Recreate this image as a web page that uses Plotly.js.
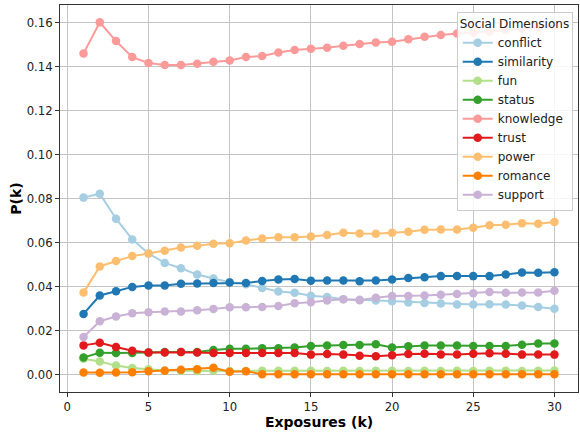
<!DOCTYPE html>
<html>
<head>
<meta charset="utf-8">
<script src="https://cdn.plot.ly/plotly-3.0.1.min.js"></script>
<style>
html,body{margin:0;padding:0;background:#fff;}
#chart{width:580px;height:434px;}
</style>
</head>
<body>
<div id="chart"></div>
<script>
const exposures = [1,2,3,4,5,6,7,8,9,10,11,12,13,14,15,16,17,18,19,20,21,22,23,24,25,26,27,28,29,30];

const seriesNames = ["conflict","similarity","fun","status","knowledge","trust","power","romance","support"];
const seriesColors = ["#a6cee3","#1f78b4","#b2df8a","#33a02c","#fb9a99","#e31a1c","#fdbf6f","#ff7f00","#cab2d6"];

const conflict = [0.0804,0.0822,0.0708,0.0614,0.0550,0.0507,0.0483,0.0454,0.0436,0.0419,0.0410,0.0393,0.0377,0.0371,0.0358,0.0352,0.0342,0.0339,0.0336,0.0333,0.0327,0.0325,0.0322,0.0318,0.0318,0.0319,0.0318,0.0313,0.0307,0.0299];
const similarity = [0.0275,0.0359,0.0378,0.0398,0.0404,0.0404,0.0412,0.0413,0.0416,0.0418,0.0416,0.0425,0.0432,0.0434,0.0426,0.0427,0.0427,0.0424,0.0427,0.0432,0.0438,0.0442,0.0447,0.0448,0.0447,0.0447,0.0454,0.0463,0.0462,0.0465];
const fun = [0.0071,0.0059,0.0040,0.0029,0.0023,0.0018,0.0017,0.0016,0.0017,0.0016,0.0016,0.0017,0.0017,0.0017,0.0017,0.0016,0.0017,0.0016,0.0017,0.0017,0.0016,0.0017,0.0016,0.0017,0.0016,0.0017,0.0017,0.0016,0.0017,0.0018];
const status = [0.0077,0.0099,0.0097,0.0097,0.0100,0.0102,0.0102,0.0102,0.0111,0.0117,0.0117,0.0119,0.0119,0.0122,0.0129,0.0131,0.0134,0.0134,0.0137,0.0122,0.0128,0.0131,0.0131,0.0131,0.0129,0.0129,0.0129,0.0135,0.0141,0.0141];
const knowledge = [0.1460,0.1601,0.1516,0.1443,0.1416,0.1407,0.1407,0.1413,0.1422,0.1428,0.1443,0.1448,0.1464,0.1475,0.1481,0.1486,0.1495,0.1503,0.1509,0.1513,0.1524,0.1536,0.1544,0.1550,0.1554,0.1560,0.1566,0.1572,0.1578,0.1585];
const trust = [0.0132,0.0144,0.0125,0.0108,0.0100,0.0100,0.0102,0.0100,0.0097,0.0097,0.0097,0.0097,0.0097,0.0097,0.0090,0.0093,0.0090,0.0085,0.0083,0.0087,0.0093,0.0094,0.0091,0.0091,0.0094,0.0096,0.0094,0.0090,0.0091,0.0090];
const power = [0.0372,0.0491,0.0516,0.0538,0.0550,0.0562,0.0577,0.0585,0.0594,0.0596,0.0609,0.0618,0.0624,0.0624,0.0627,0.0634,0.0644,0.0641,0.0640,0.0644,0.0649,0.0658,0.0659,0.0659,0.0667,0.0678,0.0681,0.0687,0.0685,0.0693];
const romance = [0.0009,0.0008,0.0009,0.0010,0.0014,0.0017,0.0021,0.0024,0.0030,0.0012,0.0014,0.0001,0.0001,0.0001,0.0001,0.0001,0.0001,0.0001,0.0001,0.0001,0.0001,0.0001,0.0001,0.0001,0.0001,0.0001,0.0001,0.0001,0.0001,0.0001];
const support = [0.0170,0.0242,0.0263,0.0278,0.0283,0.0286,0.0286,0.0292,0.0298,0.0305,0.0305,0.0307,0.0311,0.0324,0.0328,0.0336,0.0342,0.0337,0.0349,0.0357,0.0357,0.0359,0.0362,0.0366,0.0369,0.0375,0.0371,0.0372,0.0372,0.0380];

const xTicks = [0,5,10,15,20,25,30];
const yTicks = [0,0.02,0.04,0.06,0.08,0.10,0.12,0.14,0.16];

const seriesValues = [conflict,similarity,fun,status,knowledge,trust,power,romance,support];

const FONT = "DejaVu Sans, Liberation Sans, sans-serif";

const traces = seriesNames.map((name, i) => ({
  type: "scatter",
  mode: "lines+markers",
  name: name,
  x: exposures,
  y: seriesValues[i],
  line: {color: seriesColors[i], width: 2},
  marker: {color: seriesColors[i], size: 8.5},
}));

const axisCommon = {
  showgrid: true,
  gridcolor: "#c4c4c4",
  gridwidth: 1,
  zeroline: false,
  showline: true,
  linecolor: "#333333",
  linewidth: 1,
  mirror: true,
  ticks: "outside",
  ticklen: 4,
  tickwidth: 1,
  tickcolor: "#333333",
  tickfont: {family: FONT, size: 11.7, color: "#222"},
};

const layout = {
  width: 580,
  height: 434,
  margin: {l: 60, r: 2, t: 5, b: 42},
  paper_bgcolor: "#ffffff",
  plot_bgcolor: "#ffffff",
  font: {family: FONT, size: 11.7, color: "#222"},
  showlegend: true,
  xaxis: Object.assign({}, axisCommon, {
    range: [-0.45, 31.45],
    tickmode: "array",
    tickvals: xTicks,
    ticktext: xTicks.map(String),
    title: {text: "<b>Exposures (k)</b>", font: {family: FONT, size: 14, color: "#000"}, standoff: 4},
  }),
  yaxis: Object.assign({}, axisCommon, {
    range: [-0.008, 0.168],
    tickmode: "array",
    tickvals: yTicks,
    ticktext: yTicks.map(v => v.toFixed(2)),
    title: {text: "<b>P(k)</b>", font: {family: FONT, size: 14, color: "#000"}, standoff: 1},
  }),
  legend: {
    title: {text: "Social Dimensions", font: {family: FONT, size: 12, color: "#222"}},
    x: 0.9898,
    y: 0.983,
    xanchor: "right",
    yanchor: "top",
    bgcolor: "rgba(255,255,255,0.85)",
    bordercolor: "#cccccc",
    borderwidth: 1,
    font: {family: FONT, size: 12, color: "#222"},
    tracegroupgap: 0,
  },
};

Plotly.newPlot("chart", traces, layout, {staticPlot: true, displayModeBar: false});
</script>
</body>
</html>
